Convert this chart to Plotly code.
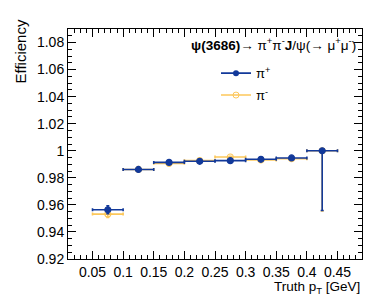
import plotly.graph_objects as go

# Data
pt_centers = [0.075, 0.125, 0.175, 0.225, 0.275, 0.325, 0.375, 0.425]
pt_halfwidth = [0.025] * 8
eff_piplus = [0.9564, 0.9862, 0.9914, 0.9922, 0.9927, 0.9937, 0.9947, 1.0]
err_piplus_up = [0.0030, 0.0008, 0.0006, 0.0006, 0.0006, 0.0006, 0.0006, 0.0]
err_piplus_dn = [0.0030, 0.0008, 0.0006, 0.0006, 0.0006, 0.0006, 0.0006, 0.0442]
eff_piminus = [0.9532, 0.9862, 0.9907, 0.9927, 0.9954, 0.9932, 0.9941, 1.0]
err_piminus_up = [0.0025, 0.0008, 0.0006, 0.0006, 0.0006, 0.0006, 0.0006, 0.0]
err_piminus_dn = [0.0025, 0.0008, 0.0006, 0.0006, 0.0006, 0.0006, 0.0006, 0.0445]

x_ticks = [0.05, 0.1, 0.15, 0.2, 0.25, 0.3, 0.35, 0.4, 0.45]
x_ticklabels = ["0.05", "0.1", "0.15", "0.2", "0.25", "0.3", "0.35", "0.4", "0.45"]
y_ticks = [0.92, 0.94, 0.96, 0.98, 1.0, 1.02, 1.04, 1.06, 1.08]
y_ticklabels = ["0.92", "0.94", "0.96", "0.98", "1", "1.02", "1.04", "1.06", "1.08"]

BLUE = "#12399a"
ORANGE = "#fcc75a"
FONT = "Liberation Sans, Arial, sans-serif"

fig = go.Figure()

def add_series(y, up, dn, color, symbol):
    fig.add_trace(go.Scatter(
        x=pt_centers, y=y, mode="markers", showlegend=False,
        marker=dict(color=color, symbol=symbol, size=6,
                    line=dict(color=color, width=1.2)),
        error_x=dict(type="data", array=pt_halfwidth, color=color, thickness=1.6, width=1.5),
        error_y=dict(type="data", symmetric=False, array=up, arrayminus=dn,
                     color=color, thickness=1.6, width=1.5),
    ))

add_series(eff_piminus, err_piminus_up, err_piminus_dn, ORANGE, "circle-open")
add_series(eff_piplus, err_piplus_up, err_piplus_dn, BLUE, "circle")

# legend-only entries
fig.add_trace(go.Scatter(x=[None], y=[None], mode="lines+markers", name="π<sup>+</sup>",
                         legendgroup="a", line=dict(color=BLUE, width=1.6),
                         marker=dict(color=BLUE, symbol="circle", size=6)))
fig.add_trace(go.Scatter(x=[None], y=[None], mode="lines+markers", name="π<sup>-</sup>",
                         legendgroup="b", line=dict(color=ORANGE, width=1.6),
                         marker=dict(color=ORANGE, symbol="circle-open", size=6)))

axis_common = dict(showgrid=False, zeroline=False, showline=True, linecolor="black",
                   linewidth=1, mirror="allticks", ticks="inside", tickcolor="black",
                   ticklen=8, tickwidth=1,
                   tickfont=dict(family=FONT, size=14, color="black"))

fig.update_xaxes(range=[0.01, 0.49], tickvals=x_ticks, ticktext=x_ticklabels,
                 minor=dict(dtick=0.01, tick0=0, ticks="inside", ticklen=4, tickcolor="black"),
                 **axis_common)
fig.update_yaxes(range=[0.92, 1.09], tickvals=y_ticks, ticktext=y_ticklabels,
                 minor=dict(dtick=0.005, tick0=0, ticks="inside", ticklen=4, tickcolor="black"),
                 **axis_common)

fig.update_layout(
    width=381, height=303,
    margin=dict(l=68, r=19, t=29, b=44),
    plot_bgcolor="white", paper_bgcolor="white",
    font=dict(family=FONT, color="black"),
    legend=dict(x=(216 - 68) / 294, y=0.873, xref="paper", yref="paper",
                xanchor="left", yanchor="top",
                bgcolor="rgba(0,0,0,0)", font=dict(family=FONT, size=13),
                traceorder="grouped", tracegroupgap=2, itemwidth=30),
    annotations=[
        dict(text="<b>ψ(3686)</b>→ π<sup>+</sup>π<sup>-</sup><b>J</b>/ψ(→ μ<sup>+</sup>μ<sup>-</sup>)",
             xref="paper", yref="paper", x=0.985, y=0.935, xanchor="right", yanchor="middle",
             showarrow=False, font=dict(family=FONT, size=13.5)),
        dict(text="Efficiency", xref="paper", yref="paper", x=-0.16, y=1.05,
             xanchor="center", yanchor="top", textangle=-90, showarrow=False,
             font=dict(family=FONT, size=15)),
        dict(text="Truth p<sub>T</sub> [GeV]", xref="paper", yref="paper", x=1.0, y=-0.122,
             xanchor="right", yanchor="middle", showarrow=False, font=dict(family=FONT, size=13.5)),
    ],
)

fig.write_html("out.html", config={"displayModeBar": False},
               post_script="document.body.style.margin='0px';document.body.style.padding='0px';")
